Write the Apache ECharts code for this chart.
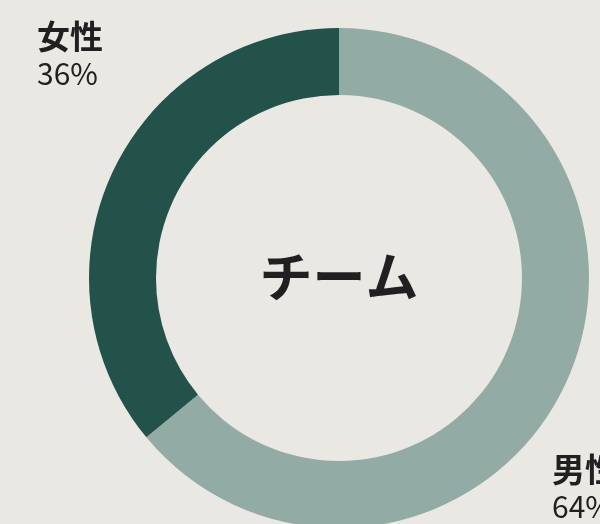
<!DOCTYPE html>
<html>
<head>
<meta charset="utf-8">
<script src="https://cdn.jsdelivr.net/npm/echarts@6/dist/echarts.min.js"></script>
<style>
  html, body { margin: 0; padding: 0; background: #e9e8e3; }
  #chart { width: 600px; height: 524px; }
</style>
</head>
<body>
<div id="chart"></div>
<script>
const categories = ['男性', '女性'];
const values = [64, 36];
const colors = ['#92aba4', '#22524a'];
const centerTitle = 'チーム';

// where each label block sits (top-left corner)
const labelSpots = [[552, 450], [37, 17]];

const chart = echarts.init(document.getElementById('chart'));

const option = {
  backgroundColor: '#e9e8e3',
  textStyle: { fontFamily: '"Noto Sans CJK JP", "Noto Sans", sans-serif' },
  graphic: [{
    type: 'text',
    x: 339,
    y: 277,
    style: {
      text: centerTitle,
      fill: '#231f20',
      font: 'bold 53px "Noto Sans CJK JP"',
      textAlign: 'center',
      textVerticalAlign: 'middle'
    }
  }],
  series: [{
    type: 'pie',
    center: [339, 278],
    radius: [183, 250],
    startAngle: 90,
    clockwise: true,
    silent: true,
    avoidLabelOverlap: false,
    color: colors,
    itemStyle: { borderWidth: 0 },
    labelLine: { show: false },
    label: {
      show: true,
      position: 'outside',
      overflow: 'none',
      formatter: (p) => `{n|${p.name}}\n{v|${p.value}%}`,
      rich: {
        n: {
          fontFamily: '"Noto Sans CJK JP"',
          fontWeight: 'bold',
          fontSize: 33,
          lineHeight: 38,
          color: '#231f20'
        },
        v: {
          fontFamily: '"Noto Sans CJK JP"',
          fontSize: 30,
          lineHeight: 38,
          color: '#231f20'
        }
      }
    },
    labelLayout: function (params) {
      const spot = labelSpots[params.dataIndex];
      return { x: spot[0], y: spot[1], align: 'left', verticalAlign: 'top' };
    },
    data: categories.map((name, i) => ({ name: name, value: values[i] }))
  }]
};

chart.setOption(option);
</script>
</body>
</html>
